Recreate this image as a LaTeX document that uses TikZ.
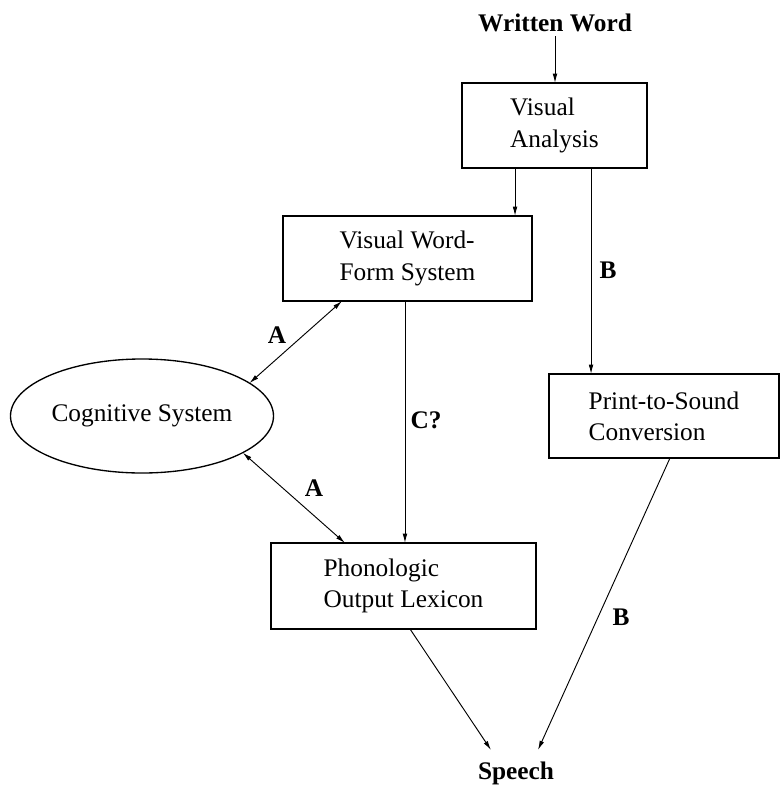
\documentclass[tikz,border=0pt]{standalone}
\usepackage{fontspec}
\setmainfont{Liberation Serif}
\usetikzlibrary{arrows.meta,shapes.geometric}

\tikzset{
  stage/.style={draw, line width=1pt, inner sep=0pt, outer sep=0pt, align=left,
    minimum height=63.75pt, font=\fontsize{19}{23.5}\selectfont},
  term/.style={font=\fontsize{19}{23.5}\selectfont\bfseries, inner sep=3pt},
  tag/.style={font=\fontsize{19}{23.5}\selectfont\bfseries, inner sep=0pt},
  link/.style={line width=0.7pt, -{Latex[length=7pt,width=3.5pt]}},
  twoway/.style={line width=0.7pt, {Latex[length=7pt,width=3.5pt]}-{Latex[length=7pt,width=3.5pt]}},
}

\begin{document}
\begin{tikzpicture}[x=0.75pt,y=0.75pt,yscale=-1,xscale=1]
  \useasboundingbox (0,0) rectangle (781,785);

  \node[term] (ww) at (555,23) {Written Word};
  \node[stage, minimum width=138.75pt] (va) at (554.5,125.5) {Visual\\Analysis};
  \node[stage, minimum width=186.75pt] (vwf) at (407.5,258.5) {Visual Word-\\Form System};
  \node[stage, minimum width=172.5pt, minimum height=63pt] (pts) at (664,416) {Print-to-Sound\\Conversion};
  \node[stage, ellipse, minimum width=197.25pt, minimum height=85.5pt] (cog) at (142,416) {Cognitive System};
  \node[stage, minimum width=198.75pt, minimum height=64.5pt] (pol) at (403.5,586) {Phonologic\\Output Lexicon};
  \node[term, inner ysep=9pt, anchor=north] (sp) at (516,750) {Speech};

  \draw[link] (ww.south) -- (ww.south |- va.north);
  \draw[link] ([xshift=-29.6pt]va.south) -- ([xshift=-29.6pt]va.south |- vwf.north);
  \draw[link] ([xshift=27.4pt]va.south) -- ([xshift=27.4pt]va.south |- pts.north);
  \draw[twoway] ([xshift=-49.1pt]vwf.south) -- (cog.17);
  \draw[link] ([xshift=-1.9pt]vwf.south) -- ([xshift=-1.9pt]vwf.south |- pol.north);
  \draw[twoway] (cog.-20) -- ([xshift=-43.9pt]pol.north);
  \draw[link] ([xshift=4.9pt]pol.south) -- ([xshift=-18.75pt]sp.north);
  \draw[link] ([xshift=4.5pt]pts.south) -- ([xshift=16.5pt]sp.north);

  \node[tag] (a1) at (277,335) {A};
  \node[tag] (b1) at (608,270) {B};
  \node[tag] (c1) at (426,420) {C?};
  \node[tag] (a2) at (314,488) {A};
  \node[tag] (b2) at (621,617) {B};
\end{tikzpicture}
\end{document}
